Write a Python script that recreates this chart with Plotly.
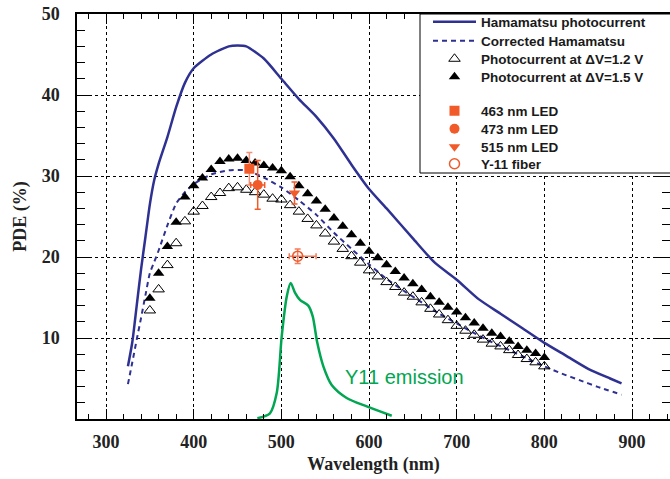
import plotly.graph_objects as go

# ---------------- data ----------------
ham_wl = [325, 330, 335, 340, 345, 350, 355, 360, 370, 380, 390, 400, 420, 440, 450, 460,
          480, 500, 520, 540, 560, 580, 600, 620, 650, 675, 700, 725, 750, 775, 800,
          825, 850, 875, 888]
ham_pde = [6.5, 9.5, 14.0, 18.5, 22.5, 26.5, 29.5, 31.5, 34.8, 38.5, 41.5, 43.3, 45.0, 46.0,
           46.1, 46.0, 44.5, 42.0, 39.5, 37.3, 34.6, 31.4, 28.4, 26.0, 22.3, 19.3, 17.2,
           14.8, 13.0, 11.2, 9.4, 7.8, 6.2, 5.0, 4.4]

corr_wl = [325, 330, 335, 340, 345, 350, 355, 360, 370, 380, 390, 400, 420, 440, 460, 480,
           500, 520, 540, 560, 580, 600, 620, 640, 660, 680, 700, 720, 740, 760, 780, 800,
           820, 840, 860, 888]
corr_pde = [4.3, 7.0, 9.8, 12.5, 15.3, 18.0, 19.4, 20.8, 23.9, 26.6, 28.0, 29.0, 30.2, 30.7,
            30.7, 29.8, 28.6, 27.0, 25.2, 23.0, 21.0, 19.1, 17.3, 15.8, 14.4, 13.0, 11.8,
            10.6, 9.5, 8.5, 7.5, 6.5, 5.6, 4.8, 4.0, 3.0]

tri_wl = [350, 360, 370, 380, 390, 400, 410, 420, 430, 440, 450, 460, 470, 480, 490, 500,
          510, 520, 530, 540, 550, 560, 570, 580, 590, 600, 610, 620, 630, 640, 650, 660,
          670, 680, 690, 700, 710, 720, 730, 740, 750, 760, 770, 780, 790, 800]
pde_12 = [13.4, 16.0, 19.0, 21.7, 24.4, 25.6, 26.3, 27.4, 27.9, 28.5, 28.6, 28.3, 28.0, 27.7,
          27.2, 27.1, 26.4, 25.6, 24.7, 23.9, 22.9, 21.9, 21.0, 20.1, 19.3, 18.35, 17.6,
          16.9, 16.3, 15.6, 15.1, 14.4, 13.6, 12.9, 12.2, 11.5, 10.9, 10.4, 9.8, 9.3, 8.96,
          8.5, 7.9, 7.4, 7.0, 6.5]
pde_15 = [14.9, 18.0, 21.3, 24.3, 27.4, 28.8, 29.75, 30.8, 31.8, 32.1, 32.2, 31.9, 31.6, 31.3,
          31.0, 30.65, 29.9, 28.8, 27.8, 26.9, 25.9, 24.8, 23.8, 22.75, 21.7, 20.7, 19.9,
          19.05, 18.2, 17.4, 16.7, 16.0, 15.1, 14.4, 13.8, 13.2, 12.5, 11.85, 11.2, 10.6,
          10.2, 9.6, 8.96, 8.5, 8.1, 7.6]

led463_wl, led463_pde, led463_err = [463.5], [30.9], [2.0]
led473_wl, led473_pde, led473_err, led473_xerr = [473], [28.9], [3.0], [8.0]
led515_wl, led515_pde, led515_err = [515], [27.9], [1.35]
fib_wl, fib_pde, fib_err = [518.6], [20.1], [0.9]
fib_xerr_plus, fib_xerr_minus = [21.0], [9.6]

em_wl = [472.6, 487, 494.7, 500.4, 506.1, 510.6, 515.5, 521.2, 530.7, 535.7, 541, 547.9,
         557.4, 574.5, 597.4, 625.9]
em_val = [0.1, 0.7, 3.2, 10.2, 15.1, 16.8, 15.6, 14.7, 14.0, 12.7, 9.4, 6.5, 4.2, 2.6,
          1.55, 0.4]

x_ticks = [300, 400, 500, 600, 700, 800, 900]
y_ticks = [10, 20, 30, 40, 50]

BLUE = "#2E3192"
RED = "#F15A29"
GREEN = "#00A651"

# layout geometry (pixels)
W, H = 670, 479
ML, MR, MT, MB = 77, 0, 14, 60
PW, PH = W - ML - MR, H - MT - MB


def px_x(p):
    return (p - ML) / PW


def px_y(p):
    return 1 - (p - MT) / PH


fig = go.Figure()

fig.add_trace(go.Scatter(x=ham_wl, y=ham_pde, mode="lines", name="Hamamatsu photocurrent",
                         line=dict(color=BLUE, width=2.5, shape="spline", smoothing=0.6),
                         legend="legend"))
fig.add_trace(go.Scatter(x=corr_wl, y=corr_pde, mode="lines", name="Corrected Hamamatsu",
                         line=dict(color=BLUE, width=2, dash="5px,4px", shape="spline",
                                   smoothing=0.6),
                         legend="legend2"))
fig.add_trace(go.Scatter(x=tri_wl, y=pde_12, mode="markers",
                         name="Photocurrent at \u0394V=1.2 V",
                         marker=dict(symbol="triangle-up-open", size=10, color="black",
                                     line=dict(width=1, color="black")),
                         legend="legend3"))
fig.add_trace(go.Scatter(x=tri_wl, y=pde_15, mode="markers",
                         name="Photocurrent at \u0394V=1.5 V",
                         marker=dict(symbol="triangle-up", size=10, color="black"),
                         legend="legend4"))
fig.add_trace(go.Scatter(x=led463_wl, y=led463_pde, mode="markers", name="463 nm LED",
                         marker=dict(symbol="square", size=10, color=RED),
                         error_y=dict(type="data", array=led463_err, color="#F4907A",
                                      thickness=1.5, width=3),
                         legend="legend5"))
fig.add_trace(go.Scatter(x=led473_wl, y=led473_pde, mode="markers", name="473 nm LED",
                         marker=dict(symbol="circle", size=10, color=RED),
                         error_y=dict(type="data", array=led473_err, color=RED,
                                      thickness=1.5, width=3),
                         error_x=dict(type="data", array=led473_xerr, color=RED,
                                      thickness=1.5, width=3),
                         legend="legend6"))
fig.add_trace(go.Scatter(x=led515_wl, y=led515_pde, mode="markers", name="515 nm LED",
                         marker=dict(symbol="triangle-down", size=10, color=RED),
                         error_y=dict(type="data", array=led515_err, color=RED,
                                      thickness=1.5, width=3),
                         legend="legend7"))
fig.add_trace(go.Scatter(x=fib_wl, y=fib_pde, mode="markers", name="Y-11 fiber",
                         marker=dict(symbol="circle-open", size=10, color=RED,
                                     line=dict(width=1.5, color=RED)),
                         error_y=dict(type="data", array=fib_err, color="#F47C5A",
                                      thickness=1.5, width=3),
                         error_x=dict(type="data", symmetric=False, array=fib_xerr_plus,
                                      arrayminus=fib_xerr_minus, color="#F47C5A",
                                      thickness=1.5, width=3),
                         legend="legend8"))
fig.add_trace(go.Scatter(x=em_wl, y=em_val, mode="lines", showlegend=False,
                         line=dict(color=GREEN, width=2.5, shape="spline", smoothing=0.8)))

fig.add_annotation(x=640, y=5.2, text="Y11 emission", showarrow=False,
                   font=dict(family="Liberation Sans", size=20, color=GREEN))

# legend frame
fig.add_shape(type="rect", xref="paper", yref="paper",
              x0=px_x(420), x1=1.2, y0=px_y(173), y1=1.0,
              line=dict(color="black", width=1), fillcolor="white", layer="above")

axis_font = dict(family="Liberation Serif", size=18, color="#222", weight="bold")

fig.update_xaxes(range=[266.9, 943.3], tickvals=x_ticks, ticks="inside", ticklen=10,
                 tickwidth=1, tickcolor="black", showline=True, linecolor="black",
                 linewidth=1.5, mirror="ticks", showgrid=True, gridcolor="black",
                 gridwidth=1, griddash="dot", zeroline=False, tickfont=axis_font,
                 ticklabelstandoff=6, automargin=False,
                 minor=dict(dtick=20, tick0=300, ticks="inside", ticklen=5,
                            tickcolor="black", showgrid=False),
                 title=dict(text="Wavelength (nm)", font=axis_font, standoff=6))
fig.update_yaxes(range=[0, 50], tickvals=y_ticks, ticks="inside", ticklen=15,
                 tickwidth=1, tickcolor="black", showline=True, linecolor="black",
                 linewidth=1.5, mirror="ticks", showgrid=True, gridcolor="black",
                 gridwidth=1, griddash="dot", zeroline=False, tickfont=axis_font,
                 ticklabelstandoff=12, automargin=False,
                 minor=dict(dtick=2, tick0=0, ticks="inside", ticklen=8,
                            tickcolor="black", showgrid=False),
                 title=dict(text="PDE (%)", font=axis_font, standoff=10))

legend_rows = [22, 41, 59, 77, 111, 129, 147, 164]
legend_font = dict(family="Liberation Sans", size=13.5, color="#1a1a1a", weight="bold")
legends = {}
for i, row in enumerate(legend_rows):
    key = "legend" if i == 0 else f"legend{i + 1}"
    legends[key] = dict(x=px_x(428), y=px_y(row), xanchor="left", yanchor="middle",
                        bgcolor="rgba(0,0,0,0)", borderwidth=0, font=legend_font,
                        itemwidth=43)

fig.update_layout(
    width=W, height=H,
    margin=dict(l=ML, r=MR, t=MT, b=MB),
    paper_bgcolor="white", plot_bgcolor="white",
    showlegend=True,
    **legends,
)

fig.write_html("out.html", config={"displayModeBar": False},
               post_script="document.body.style.margin='0';document.body.style.overflow='hidden';")
